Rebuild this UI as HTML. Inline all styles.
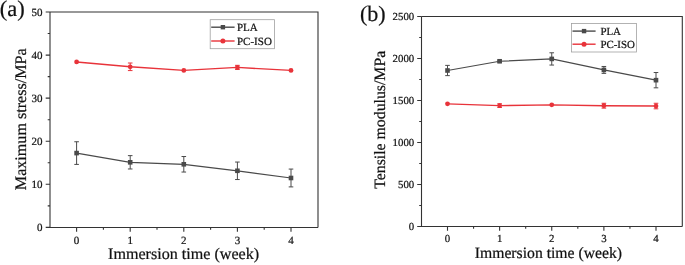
<!DOCTYPE html>
<html><head><meta charset="utf-8"><style>
html,body{margin:0;padding:0;background:#fff;}
svg{display:block;will-change:transform;}
text{text-rendering:geometricPrecision;}
text{font-family:"Liberation Serif",serif;fill:#111;stroke:#111;stroke-width:0.22px;}
</style></head><body>
<svg width="685" height="265" viewBox="0 0 685 265">
<rect width="685" height="265" fill="#fff"/>
<path d="M50.0,12.0H318.0V227.5" fill="none" stroke="#333" stroke-width="1.1"/>
<path d="M50.0,227.5V12.0" fill="none" stroke="#333" stroke-width="1.1"/>
<path d="M49.4,227.5H318.0" fill="none" stroke="#333" stroke-width="1.1"/>
<path d="M76.60,227.5v4.3M130.20,227.5v4.3M183.80,227.5v4.3M237.40,227.5v4.3M291.00,227.5v4.3M103.40,227.5v2.3M157.00,227.5v2.3M210.60,227.5v2.3M264.20,227.5v2.3M50.0,227.40h-4.3M50.0,184.32h-4.3M50.0,141.24h-4.3M50.0,98.16h-4.3M50.0,55.08h-4.3M50.0,12.00h-4.3M50.0,205.86h-2.3M50.0,162.78h-2.3M50.0,119.70h-2.3M50.0,76.62h-2.3M50.0,33.54h-2.3" stroke="#333" stroke-width="1.1" fill="none"/>
<text x="76.60" y="243.6" font-size="11.0" text-anchor="middle">0</text>
<text x="130.20" y="243.6" font-size="11.0" text-anchor="middle">1</text>
<text x="183.80" y="243.6" font-size="11.0" text-anchor="middle">2</text>
<text x="237.40" y="243.6" font-size="11.0" text-anchor="middle">3</text>
<text x="291.00" y="243.6" font-size="11.0" text-anchor="middle">4</text>
<text x="42.4" y="231.00" font-size="11.0" text-anchor="end">0</text>
<text x="42.4" y="187.92" font-size="11.0" text-anchor="end">10</text>
<text x="42.4" y="144.84" font-size="11.0" text-anchor="end">20</text>
<text x="42.4" y="101.76" font-size="11.0" text-anchor="end">30</text>
<text x="42.4" y="58.68" font-size="11.0" text-anchor="end">40</text>
<text x="42.4" y="15.60" font-size="11.0" text-anchor="end">50</text>
<text x="183.6" y="258.9" font-size="16.1" text-anchor="middle">Immersion time (week)</text>
<text transform="translate(25.7,119.3) rotate(-90)" font-size="16.1" text-anchor="middle">Maximum stress/MPa</text>
<text x="-0.2" y="15.5" font-size="22.5">(a)</text>
<polyline points="76.60,153.09 130.20,162.31 183.80,164.29 237.40,170.79 291.00,177.99" fill="none" stroke="#4a4a4a" stroke-width="1.2"/>
<path d="M76.60,141.76V164.42M74.30,141.76h4.6M74.30,164.42h4.6M130.20,155.63V168.98M127.90,155.63h4.6M127.90,168.98h4.6M183.80,156.53V172.04M181.50,156.53h4.6M181.50,172.04h4.6M237.40,162.05V179.54M235.10,162.05h4.6M235.10,179.54h4.6M291.00,169.07V186.90M288.70,169.07h4.6M288.70,186.90h4.6" stroke="#4a4a4a" stroke-width="1" fill="none"/>
<rect x="74.30" y="150.79" width="4.6" height="4.6" fill="#4a4a4a"/>
<rect x="127.90" y="160.01" width="4.6" height="4.6" fill="#4a4a4a"/>
<rect x="181.50" y="161.99" width="4.6" height="4.6" fill="#4a4a4a"/>
<rect x="235.10" y="168.49" width="4.6" height="4.6" fill="#4a4a4a"/>
<rect x="288.70" y="175.69" width="4.6" height="4.6" fill="#4a4a4a"/>
<polyline points="76.60,61.97 130.20,66.80 183.80,70.42 237.40,67.40 291.00,70.42" fill="none" stroke="#e8333a" stroke-width="1.4"/>
<path d="M130.20,63.01V70.59M127.90,63.01h4.6M127.90,70.59h4.6M237.40,65.33V69.47M235.10,65.33h4.6M235.10,69.47h4.6" stroke="#e8333a" stroke-width="1" fill="none"/>
<circle cx="76.60" cy="61.97" r="2.4" fill="#e8333a"/>
<circle cx="130.20" cy="66.80" r="2.4" fill="#e8333a"/>
<circle cx="183.80" cy="70.42" r="2.4" fill="#e8333a"/>
<circle cx="237.40" cy="67.40" r="2.4" fill="#e8333a"/>
<circle cx="291.00" cy="70.42" r="2.4" fill="#e8333a"/>
<rect x="210.2" y="19.7" width="64.19999999999999" height="29.000000000000004" fill="none" stroke="#a0a0a0" stroke-width="0.8"/>
<path d="M211.2,27.2H234.6" stroke="#4a4a4a" stroke-width="1.4"/>
<rect x="220.7" y="25.0" width="4.4" height="4.4" fill="#4a4a4a"/>
<path d="M211.2,41.0H234.6" stroke="#e8333a" stroke-width="1.4"/>
<circle cx="222.89999999999998" cy="41.0" r="2.5" fill="#e8333a"/>
<text x="237.0" y="31.30" font-size="11">PLA</text>
<text x="237.0" y="44.95" font-size="11">PC-ISO</text>
<path d="M421.5,16.5H682.3V226.5" fill="none" stroke="#333" stroke-width="1.1"/>
<path d="M421.5,226.5V16.5" fill="none" stroke="#333" stroke-width="1.1"/>
<path d="M420.9,226.5H682.3" fill="none" stroke="#333" stroke-width="1.1"/>
<path d="M447.50,226.5v4.3M499.62,226.5v4.3M551.75,226.5v4.3M603.88,226.5v4.3M656.00,226.5v4.3M473.56,226.5v2.3M525.69,226.5v2.3M577.81,226.5v2.3M629.94,226.5v2.3M421.5,226.50h-4.3M421.5,184.50h-4.3M421.5,142.50h-4.3M421.5,100.50h-4.3M421.5,58.50h-4.3M421.5,16.50h-4.3M421.5,205.50h-2.3M421.5,163.50h-2.3M421.5,121.50h-2.3M421.5,79.50h-2.3M421.5,37.50h-2.3" stroke="#333" stroke-width="1.1" fill="none"/>
<text x="447.50" y="241.7" font-size="10.8" text-anchor="middle">0</text>
<text x="499.62" y="241.7" font-size="10.8" text-anchor="middle">1</text>
<text x="551.75" y="241.7" font-size="10.8" text-anchor="middle">2</text>
<text x="603.88" y="241.7" font-size="10.8" text-anchor="middle">3</text>
<text x="656.00" y="241.7" font-size="10.8" text-anchor="middle">4</text>
<text x="414.2" y="230.10" font-size="10.8" text-anchor="end">0</text>
<text x="414.2" y="188.10" font-size="10.8" text-anchor="end">500</text>
<text x="414.2" y="146.10" font-size="10.8" text-anchor="end">1000</text>
<text x="414.2" y="104.10" font-size="10.8" text-anchor="end">1500</text>
<text x="414.2" y="62.10" font-size="10.8" text-anchor="end">2000</text>
<text x="414.2" y="20.10" font-size="10.8" text-anchor="end">2500</text>
<text x="548.4" y="257.7" font-size="15.7" text-anchor="middle">Immersion time (week)</text>
<text transform="translate(385.0,119.8) rotate(-90)" font-size="15.8" text-anchor="middle">Tensile modulus/MPa</text>
<text x="360.0" y="21.4" font-size="22.0">(b)</text>
<polyline points="447.50,70.51 499.62,61.27 551.75,58.92 603.88,69.92 656.00,80.17" fill="none" stroke="#4a4a4a" stroke-width="1.2"/>
<path d="M447.50,65.39V75.64M445.20,65.39h4.6M445.20,75.64h4.6M499.62,60.26V62.28M497.32,60.26h4.6M497.32,62.28h4.6M551.75,52.79V65.05M549.45,52.79h4.6M549.45,65.05h4.6M603.88,66.48V73.37M601.58,66.48h4.6M601.58,73.37h4.6M656.00,72.53V87.82M653.70,72.53h4.6M653.70,87.82h4.6" stroke="#4a4a4a" stroke-width="1" fill="none"/>
<rect x="445.20" y="68.21" width="4.6" height="4.6" fill="#4a4a4a"/>
<rect x="497.32" y="58.97" width="4.6" height="4.6" fill="#4a4a4a"/>
<rect x="549.45" y="56.62" width="4.6" height="4.6" fill="#4a4a4a"/>
<rect x="601.58" y="67.62" width="4.6" height="4.6" fill="#4a4a4a"/>
<rect x="653.70" y="77.87" width="4.6" height="4.6" fill="#4a4a4a"/>
<polyline points="447.50,103.86 499.62,105.62 551.75,104.87 603.88,105.71 656.00,106.04" fill="none" stroke="#e8333a" stroke-width="1.4"/>
<path d="M499.62,103.78V107.47M497.32,103.78h4.6M497.32,107.47h4.6M603.88,103.27V108.14M601.58,103.27h4.6M601.58,108.14h4.6M656.00,103.27V108.82M653.70,103.27h4.6M653.70,108.82h4.6" stroke="#e8333a" stroke-width="1" fill="none"/>
<circle cx="447.50" cy="103.86" r="2.4" fill="#e8333a"/>
<circle cx="499.62" cy="105.62" r="2.4" fill="#e8333a"/>
<circle cx="551.75" cy="104.87" r="2.4" fill="#e8333a"/>
<circle cx="603.88" cy="105.71" r="2.4" fill="#e8333a"/>
<circle cx="656.00" cy="106.04" r="2.4" fill="#e8333a"/>
<rect x="571.4" y="23.5" width="65.0" height="28.5" fill="none" stroke="#a0a0a0" stroke-width="0.8"/>
<path d="M572.5,31.1H595.6" stroke="#4a4a4a" stroke-width="1.4"/>
<rect x="581.8499999999999" y="28.900000000000002" width="4.4" height="4.4" fill="#4a4a4a"/>
<path d="M572.5,44.2H595.6" stroke="#e8333a" stroke-width="1.4"/>
<circle cx="584.05" cy="44.2" r="2.5" fill="#e8333a"/>
<text x="600.4" y="35.20" font-size="10.9">PLA</text>
<text x="600.4" y="48.15" font-size="10.9">PC-ISO</text>
</svg>
</body></html>
